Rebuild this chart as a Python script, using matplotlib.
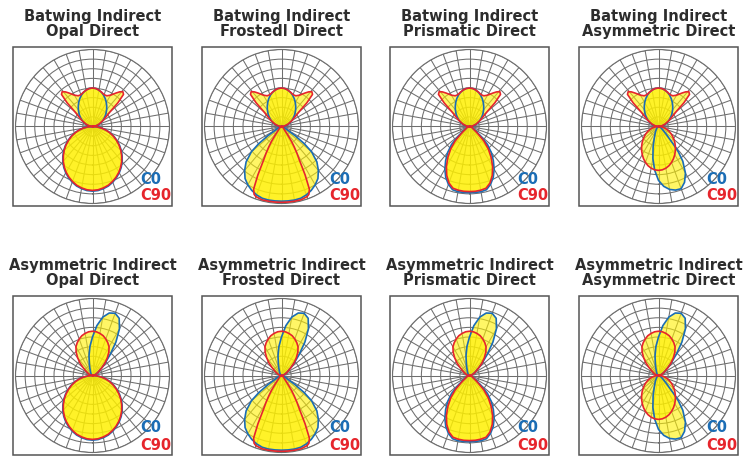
import numpy as np
import matplotlib.pyplot as plt
from matplotlib.patches import Rectangle

W, H = 753, 457

titles = [
    "Batwing Indirect\nOpal Direct",
    "Batwing Indirect\nFrostedl Direct",
    "Batwing Indirect\nPrismatic Direct",
    "Batwing Indirect\nAsymmetric Direct",
    "Asymmetric Indirect\nOpal Direct",
    "Asymmetric Indirect\nFrosted Direct",
    "Asymmetric Indirect\nPrismatic Direct",
    "Asymmetric Indirect\nAsymmetric Direct",
]
indirect_kind = ["batwing"] * 4 + ["asym"] * 4
direct_kind = ["opal", "frosted", "prismatic", "asym"] * 2

# relative intensity (1 = outer ring), angles in degrees
# symmetric curves: half only, 0..90 from nadir (direct) or zenith (indirect)
ang5 = [0, 5, 10, 15, 20, 25, 30, 35, 40, 45, 50, 55, 60, 65, 70, 75, 80, 85, 90]

opal_c0 = [0.84, 0.835, 0.82, 0.80, 0.77, 0.735, 0.695, 0.65, 0.60, 0.545,
           0.49, 0.43, 0.37, 0.31, 0.25, 0.19, 0.125, 0.06, 0.0]
opal_c90 = [0.83, 0.825, 0.81, 0.79, 0.76, 0.725, 0.685, 0.64, 0.59, 0.535,
            0.48, 0.42, 0.36, 0.30, 0.24, 0.18, 0.12, 0.06, 0.0]

frost_c0_ang = [0, 5, 10, 15, 20, 25, 30, 35, 40, 45, 50, 53, 56, 60, 70, 80, 90]
frost_c0 = [0.97, 0.97, 0.97, 0.965, 0.945, 0.915, 0.875, 0.825, 0.745, 0.65,
            0.51, 0.37, 0.21, 0.08, 0.03, 0.01, 0.0]
frost_c90_ang = [0, 5, 10, 15, 20, 22, 24, 26, 28, 30, 32, 34, 36, 40, 50, 60, 70, 90]
frost_c90 = [0.985, 0.985, 0.985, 0.985, 0.97, 0.95, 0.89, 0.70, 0.50, 0.40,
             0.31, 0.23, 0.14, 0.07, 0.03, 0.02, 0.01, 0.0]

prism_c0 = [0.86, 0.86, 0.86, 0.85, 0.80, 0.73, 0.64, 0.54, 0.44, 0.33,
            0.18, 0.09, 0.05, 0.04, 0.03, 0.02, 0.01, 0.005, 0.0]
prism_c90 = [0.845, 0.845, 0.84, 0.83, 0.78, 0.70, 0.60, 0.49, 0.38, 0.26,
             0.13, 0.07, 0.05, 0.04, 0.03, 0.02, 0.01, 0.005, 0.0]

# asymmetric direct C0: full range, positive = right of nadir
asym_dn_c0_ang = [-90, -60, -45, -30, -20, -15, -10, -5, 0, 5, 10, 15, 20, 25,
                  30, 35, 38, 40, 45, 50, 60, 75, 90]
asym_dn_c0 = [0.0, 0.01, 0.03, 0.08, 0.16, 0.27, 0.42, 0.57, 0.70, 0.78, 0.83,
              0.855, 0.86, 0.80, 0.70, 0.55, 0.42, 0.30, 0.14, 0.08, 0.04, 0.01, 0.0]
asym_dn_c90 = [0.57, 0.565, 0.55, 0.527, 0.496, 0.461, 0.422, 0.382, 0.341, 0.301,
               0.262, 0.225, 0.189, 0.155, 0.122, 0.09, 0.06, 0.03, 0.0]

batwing_c0 = [0.50, 0.495, 0.48, 0.458, 0.429, 0.395, 0.359, 0.322, 0.286, 0.25,
              0.217, 0.185, 0.154, 0.126, 0.099, 0.073, 0.048, 0.024, 0.0]
batwing_c90_ang = [0, 5, 10, 15, 20, 25, 30, 35, 38, 41, 44, 47, 50, 55, 60, 70, 80, 90]
batwing_c90 = [0.50, 0.495, 0.48, 0.46, 0.44, 0.44, 0.47, 0.53, 0.57, 0.60,
               0.58, 0.45, 0.30, 0.21, 0.16, 0.09, 0.04, 0.0]

# asymmetric indirect C0: full range, positive = right of zenith
asym_up_c0_ang = [-90, -70, -50, -40, -30, -20, -15, -10, -5, 0, 5, 10, 15, 20,
                  25, 30, 35, 40, 45, 50, 60, 70, 80, 90]
asym_up_c0 = [0.0, 0.01, 0.02, 0.03, 0.05, 0.10, 0.16, 0.26, 0.38, 0.50, 0.65,
              0.77, 0.84, 0.86, 0.82, 0.70, 0.53, 0.36, 0.24, 0.16, 0.08, 0.04, 0.015, 0.0]
asym_up_c90 = [0.575, 0.57, 0.555, 0.535, 0.505, 0.47, 0.43, 0.37, 0.30, 0.23,
               0.16, 0.11, 0.08, 0.06, 0.045, 0.03, 0.02, 0.01, 0.0]


def mirror(ang, r):
    ang = np.asarray(ang, float)
    r = np.asarray(r, float)
    return np.concatenate([-ang[:0:-1], ang]), np.concatenate([r[:0:-1], r])


def full(ang, r):
    return np.asarray(ang, float), np.asarray(r, float)


down = {
    "opal": (mirror(ang5, opal_c0), mirror(ang5, opal_c90)),
    "frosted": (mirror(frost_c0_ang, frost_c0), mirror(frost_c90_ang, frost_c90)),
    "prismatic": (mirror(ang5, prism_c0), mirror(ang5, prism_c90)),
    "asym": (full(asym_dn_c0_ang, asym_dn_c0), mirror(ang5, asym_dn_c90)),
}
up = {
    "batwing": (mirror(ang5, batwing_c0), mirror(batwing_c90_ang, batwing_c90)),
    "asym": (full(asym_up_c0_ang, asym_up_c0), mirror(ang5, asym_up_c90)),
}


def curve(dn, upper):
    (da, dr), (ua, ur) = dn, upper
    theta = np.radians(np.concatenate([da, 180 - ua[::-1]]))
    return theta, np.concatenate([dr, ur[::-1]])


blue = "#1b6db5"
red = "#e6252c"
yellow = "#fff000"
grid_c = "#6e6e6e"

cols = [13, 202, 390, 579]
rows = [47, 296]
box = 159
rad = 77

fig = plt.figure(figsize=(W / 100, H / 100), dpi=100)

for i in range(8):
    x0 = cols[i % 4]
    y0 = rows[i // 4]
    cx, cy = x0 + box / 2, y0 + box / 2

    fig.patches.append(Rectangle((x0 / W, 1 - (y0 + box) / H), box / W, box / H,
                                 transform=fig.transFigure, fill=False,
                                 ec="#555555", lw=1.1))
    ax = fig.add_axes([(cx - rad) / W, 1 - (cy + rad) / H, 2 * rad / W, 2 * rad / H],
                      projection="polar")
    ax.set_theta_zero_location("S")
    ax.set_ylim(0, 1)
    ax.set_rgrids(np.arange(1, 9) / 8, labels=[])
    ax.set_thetagrids(np.arange(0, 360, 10), labels=[])
    ax.tick_params(length=0)
    ax.grid(color=grid_c, lw=0.75)
    ax.spines["polar"].set_color(grid_c)
    ax.spines["polar"].set_linewidth(0.8)

    c0_dn, c90_dn = down[direct_kind[i]]
    c0_up, c90_up = up[indirect_kind[i]]
    th0, r0 = curve(c0_dn, c0_up)
    th90, r90 = curve(c90_dn, c90_up)

    ax.fill(th90, r90, color=yellow, alpha=0.6, lw=0, zorder=2)
    ax.fill(th0, r0, color=yellow, alpha=0.6, lw=0, zorder=2)
    ax.plot(th0, r0, color=blue, lw=1.2, zorder=3)
    ax.plot(th90, r90, color=red, lw=1.2, zorder=4)

    fig.text(cx / W, 1 - (y0 - 23) / H, titles[i], ha="center", va="center",
             fontsize=10.5, fontweight="bold", color="#2d2d2d", linespacing=1.05)
    fig.text((x0 + 127) / W, 1 - (y0 + 132) / H, "C0", ha="left", va="center",
             fontsize=10.5, fontweight="bold", color=blue)
    fig.text((x0 + 127) / W, 1 - (y0 + 149) / H, "C90", ha="left", va="center",
             fontsize=10.5, fontweight="bold", color=red)

fig.savefig("out.png", dpi=100)
